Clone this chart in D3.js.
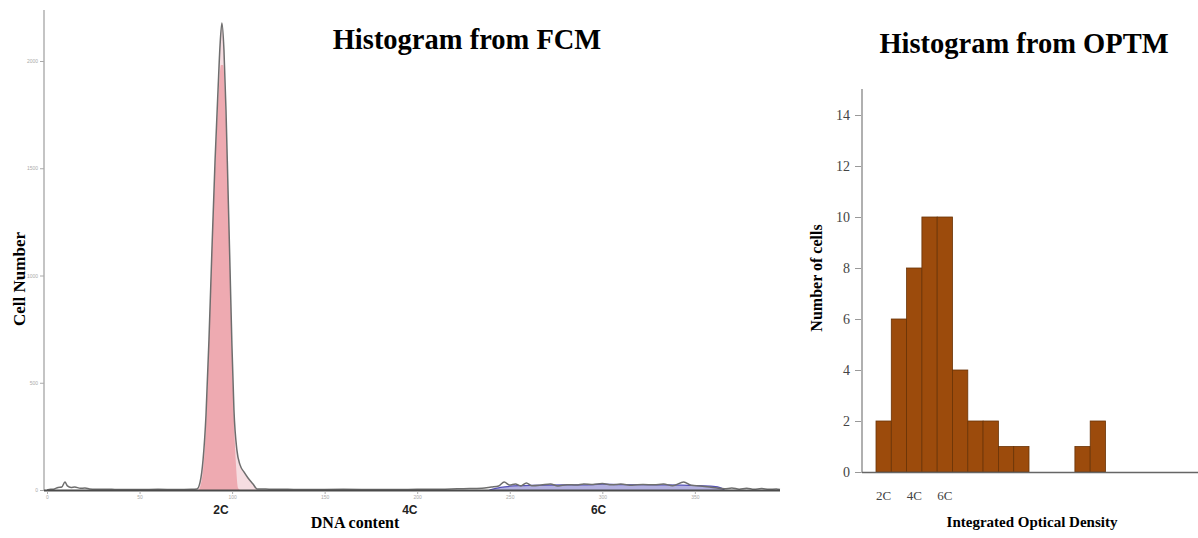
<!DOCTYPE html>
<html>
<head>
<meta charset="utf-8">
<script src="https://cdn.jsdelivr.net/npm/d3@7"></script>
<style>
  body { margin: 0; background: #fff; }
  svg { display: block; }
</style>
</head>
<body>
<div id="chart"></div>
<script>
const fcmX = [0, 2, 4, 6, 8, 9.7, 11, 13, 15, 18, 20.5, 23, 26, 30, 35, 40, 50, 60, 70, 78,
  81, 82.7, 84.3, 85.9, 87.5, 89.1, 90.8, 92.4, 93.5, 94.5, 95.6, 96.7, 97.8, 98.9, 99.9, 101,
  102.6, 104.3, 106.4, 108.6, 111.3, 113.5, 120, 130, 140, 160, 180, 200, 215, 225, 235, 240,
  244, 247, 250, 253, 256, 259, 262, 267, 272, 276, 281, 286, 290, 295, 300, 305, 310, 316,
  322, 328, 333, 338, 344, 348, 353, 358, 362, 366, 370, 374, 378, 382, 386, 390, 394, 396];
const fcmCount = [0, 3, 5, 12, 14, 37, 19, 12, 14, 8, 9, 5, 3, 4, 3, 2, 2, 3, 2, 3,
  5, 37, 140, 350, 700, 1119, 1538, 1865, 2075, 2177, 2051, 1772, 1399, 1026, 676, 373,
  186, 117, 84, 56, 28, 5, 4, 3, 2, 3, 2, 3, 4, 6, 8, 14,
  19, 37, 23, 28, 19, 33, 20, 23, 28, 19, 25, 23, 28, 26, 30, 24, 28, 22,
  26, 24, 28, 20, 37, 22, 19, 14, 9, 6, 9, 4, 8, 3, 7, 3, 5, 2];

// G1 (2C) fitted peak, pink
const g1X = [82.1, 84.3, 85.9, 87.5, 89.1, 90.8, 92.4, 94, 95.1, 96.7, 97.8, 98.9, 99.9, 101, 102.1, 103.2, 104.3];
const g1Count = [0, 93, 303, 700, 1119, 1492, 1795, 1981, 1981, 1725, 1399, 1026, 653, 326, 117, 9, 0];

// S / G2 (6C) fitted region, blue
const g2X = [239, 245, 255, 270, 290, 300, 310, 330, 350, 360, 364, 366];
const g2Count = [0, 12, 20, 23, 24, 27, 25, 24, 21, 17, 10, 0];

const fcmYTicks = [0, 500, 1000, 1500, 2000];
const fcmXTicks = [0, 50, 100, 150, 200, 250, 300, 350];
const fcmPloidy = ["2C", "4C", "6C"];
const fcmPloidyAt = [94, 196, 298];

// OPTM histogram (right)
const optmCounts = [2, 6, 8, 10, 10, 4, 2, 2, 1, 1, 0, 0, 0, 1, 2, 0, 0, 0, 0, 0, 0];
const optmYTicks = [0, 2, 4, 6, 8, 10, 12, 14];
const optmLabels = ["2C", "4C", "6C"];
const optmLabelBins = [0, 2, 4];

const width = 1198, height = 538;
const svg = d3.select("#chart").append("svg")
  .attr("width", width)
  .attr("height", height);

const serif = "'Liberation Serif', 'Times New Roman', serif";
const sans = "'Liberation Sans', Arial, sans-serif";

// ---------- left panel ----------
const x1 = d3.scaleLinear().domain([0, 396]).range([47, 780]);
const y1 = d3.scaleLinear().domain([0, 2000]).range([490, 61]);

// y axis
svg.append("line")
  .attr("x1", 44).attr("x2", 44).attr("y1", 10).attr("y2", 491)
  .attr("stroke", "#c4c4c4").attr("stroke-width", 2);
const gY1 = svg.append("g").attr("transform", "translate(44,0)")
  .call(d3.axisLeft(y1).tickValues(fcmYTicks).tickFormat(d3.format("d")).tickSize(4).tickPadding(2));
gY1.select(".domain").remove();
gY1.selectAll("line").attr("stroke", "#aaa");
gY1.selectAll("text").attr("fill", "#aaa").style("font-size", "5px").style("font-family", sans);

const pts = (xs, ys) => xs.map((v, i) => [v, ys[i]]);
const area1 = d3.area().x(d => x1(d[0])).y0(y1(0)).y1(d => y1(d[1])).curve(d3.curveMonotoneX);
const line1 = d3.line().x(d => x1(d[0])).y(d => y1(d[1])).curve(d3.curveMonotoneX);

const fcmPts = pts(fcmX, fcmCount);

// light pink under the measured peak
svg.append("path")
  .datum(fcmPts.filter(d => d[0] >= 81 && d[0] <= 113.5))
  .attr("d", area1)
  .attr("fill", "#f6dde1");

// blue S/G2 region
svg.append("path")
  .datum(pts(g2X, g2Count))
  .attr("d", area1)
  .attr("fill", "#b3b0e0");
svg.append("path")
  .datum(pts(g2X, g2Count))
  .attr("d", line1)
  .attr("fill", "none")
  .attr("stroke", "#5551b8").attr("stroke-width", 1.2);

// pink G1 peak
svg.append("path")
  .datum(pts(g1X, g1Count))
  .attr("d", area1)
  .attr("fill", "#eeaab1");

// measured data outline
svg.append("path")
  .datum(fcmPts)
  .attr("d", line1)
  .attr("fill", "none")
  .attr("stroke", "#6e6e6e").attr("stroke-width", 1.5);

// x axis
svg.append("line")
  .attr("x1", 44).attr("x2", 780).attr("y1", 490.5).attr("y2", 490.5)
  .attr("stroke", "#4a4a4a").attr("stroke-width", 2);
const gX1 = svg.append("g").attr("transform", "translate(0,491)")
  .call(d3.axisBottom(x1).tickValues(fcmXTicks).tickSize(3).tickPadding(1));
gX1.select(".domain").remove();
gX1.selectAll("line").attr("stroke", "#aaa");
gX1.selectAll("text").attr("fill", "#aaa").style("font-size", "5px").style("font-family", sans);

svg.selectAll(".ploidy1")
  .data(fcmPloidy)
  .join("text")
  .attr("x", (d, i) => x1(fcmPloidyAt[i]))
  .attr("y", 514)
  .attr("text-anchor", "middle")
  .style("font-family", sans)
  .style("font-weight", "bold")
  .style("font-size", "12px")
  .attr("fill", "#222")
  .text(d => d);

svg.append("text")
  .attr("x", 355).attr("y", 528)
  .attr("text-anchor", "middle")
  .style("font-family", serif).style("font-weight", "bold").style("font-size", "16px")
  .text("DNA content");

svg.append("text")
  .attr("transform", "translate(25,279) rotate(-90)")
  .attr("text-anchor", "middle")
  .style("font-family", serif).style("font-weight", "bold").style("font-size", "17px")
  .text("Cell Number");

svg.append("text")
  .attr("x", 467).attr("y", 49)
  .attr("text-anchor", "middle")
  .style("font-family", serif).style("font-weight", "bold").style("font-size", "28.5px")
  .text("Histogram from FCM");

// ---------- right panel ----------
const x2 = d3.scaleLinear().domain([0, 21]).range([876, 1197.3]);
const y2 = d3.scaleLinear().domain([0, 15]).range([472, 89.5]);

svg.append("line")
  .attr("x1", 862).attr("x2", 862).attr("y1", 89).attr("y2", 473)
  .attr("stroke", "#b0b0b0").attr("stroke-width", 2);
const gY2 = svg.append("g").attr("transform", "translate(861,0)")
  .call(d3.axisLeft(y2).tickValues(optmYTicks).tickSize(6).tickPadding(5));
gY2.select(".domain").remove();
gY2.selectAll("line").attr("stroke", "#999");
gY2.selectAll("text").attr("fill", "#444").style("font-size", "14px").style("font-family", serif);

svg.selectAll(".bar")
  .data(optmCounts)
  .join("rect")
  .attr("x", (d, i) => x2(i))
  .attr("y", d => y2(d))
  .attr("width", x2(1) - x2(0))
  .attr("height", d => y2(0) - y2(d))
  .attr("fill", "#9c4b0c")
  .attr("stroke", d => d > 0 ? "#6a3306" : "none")
  .attr("stroke-width", 0.8);

svg.append("line")
  .attr("x1", 862).attr("x2", 1198).attr("y1", 472.5).attr("y2", 472.5)
  .attr("stroke", "#666").attr("stroke-width", 1.5);

svg.selectAll(".ploidy2")
  .data(optmLabels)
  .join("text")
  .attr("x", (d, i) => x2(optmLabelBins[i] + 0.5))
  .attr("y", 500)
  .attr("text-anchor", "middle")
  .style("font-family", serif)
  .style("font-size", "13px")
  .attr("fill", "#444")
  .text(d => d);

svg.append("text")
  .attr("x", 1032).attr("y", 527)
  .attr("text-anchor", "middle")
  .style("font-family", serif).style("font-weight", "bold").style("font-size", "15px")
  .text("Integrated Optical Density");

svg.append("text")
  .attr("transform", "translate(822,278) rotate(-90)")
  .attr("text-anchor", "middle")
  .style("font-family", serif).style("font-weight", "bold").style("font-size", "16px")
  .text("Number of cells");

svg.append("text")
  .attr("x", 1024).attr("y", 53)
  .attr("text-anchor", "middle")
  .style("font-family", serif).style("font-weight", "bold").style("font-size", "28.5px")
  .text("Histogram from OPTM");
</script>
</body>
</html>
